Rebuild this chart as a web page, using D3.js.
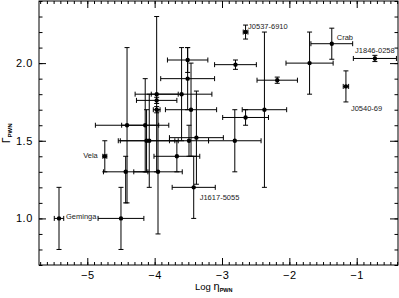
<!DOCTYPE html>
<html>
<head>
<meta charset="utf-8">
<script src="https://cdnjs.cloudflare.com/ajax/libs/d3/7.8.5/d3.min.js"></script>
<style>
  body { margin: 0; background: #fff; }
  svg { display: block; font-family: "Liberation Sans", Arial, sans-serif; }
  .axis path { display: none; }
  .axis line { stroke: #000; }
  .axis text { font-size: 11px; fill: #000; }
  .lbl { font-size: 7.5px; fill: #222; }
</style>
</head>
<body>
<div id="chart"></div>
<script>
var width = 399,
    height = 298;

// pulsar wind nebulae: log efficiency vs photon index
var names     = ["Geminga", "", "Vela", "", "", "", "", "", "", "", "", "", "", "", "", "", "", "", "",
                 "J1617-5055", "J0537-6910", "Crab", "J1846-0258", "J0540-69", "", "", "", "", "", ""];
var logEta    = [-5.42, -4.50, -4.74, -4.43, -3.95, -4.41, -4.14, -4.12, -4.08, -3.97, -3.97, -3.97, -3.51, -3.51, -3.60,
                 -3.46, -3.38, -3.49, -3.67, -3.42, -2.65, -1.37, -0.73, -1.16, -1.70, -2.18, -2.80, -2.37, -2.65, -2.81];
var logEtaErr = [0.07, 0.34, 0.03, 0.33, 0.36, 0.47, 0.35, 0.42, 0.43, 0.32, 0.30, 0.05, 0.30, 0.40, 0.45,
                 0.38, 0.40, 0.29, 0.34, 0.32, 0.035, 0.31, 0.32, 0.04, 0.35, 0.30, 0.31, 0.33, 0.34, 0.39];
var gamma     = [1.00, 1.00, 1.40, 1.30, 1.30, 1.60, 1.60, 1.50, 1.50, 1.80, 1.76, 1.70, 2.02, 1.90, 1.80,
                 1.70, 1.52, 1.50, 1.40, 1.20, 2.20, 2.125, 2.03, 1.85, 2.00, 1.89, 1.99, 1.70, 1.65, 1.50];
var gammaLo   = [0.20, 0.20, 0.10, 0.20, 0.40, 0.50, 0.30, 0.20, 0.30, 0.50, 0.02, 0.02, 0.08, 0.20, 0.30,
                 0.30, 0.30, 0.10, 0.10, 0.20, 0.045, 0.10, 0.02, 0.10, 0.20, 0.02, 0.03, 0.50, 0.05, 0.20];
var gammaHi   = [0.20, 0.20, 0.10, 0.10, 0.40, 0.50, 0.30, 0.20, 0.30, 0.50, 0.02, 0.02, 0.08, 0.20, 0.30,
                 0.30, 0.30, 0.10, 0.10, 0.20, 0.045, 0.10, 0.02, 0.10, 0.20, 0.02, 0.03, 0.50, 0.05, 0.20];

var xTicks = [-5, -4, -3, -2, -1];
var yTicks = [1.0, 1.5, 2.0];

var margin = {top: 1, right: 1, bottom: 33, left: 39};

var x = d3.scaleLinear()
    .domain([-5.717, -0.387])
    .range([margin.left, width - margin.right]);

var y = d3.scaleLinear()
    .domain([0.7, 2.4])
    .range([height - margin.bottom, margin.top]);

var svg = d3.select("#chart").append("svg")
    .attr("width", width)
    .attr("height", height);

var minusFmt = function(d) { return (d < 0 ? "\u2212" : "") + Math.abs(d); };

// minor ticks every 0.1
var xMinor = d3.range(-5.7, -0.38, 0.1).map(function(d) { return Math.round(d * 10) / 10; });
var yMinor = d3.range(0.7, 2.41, 0.1).map(function(d) { return Math.round(d * 10) / 10; });

var x0 = height - margin.bottom, x1 = margin.top;

// bottom
svg.append("g").attr("class", "axis").attr("transform", "translate(0," + x0 + ")")
    .call(d3.axisBottom(x).tickValues(xMinor).tickSize(-3).tickFormat(""));
svg.append("g").attr("class", "axis").attr("transform", "translate(0," + x0 + ")")
    .call(d3.axisBottom(x).tickValues(xTicks).tickSize(-7).tickPadding(6).tickFormat(minusFmt))
  .selectAll("text").attr("letter-spacing", "0.6px");
// top
svg.append("g").attr("class", "axis").attr("transform", "translate(0," + x1 + ")")
    .call(d3.axisTop(x).tickValues(xMinor).tickSize(-3).tickFormat(""));
svg.append("g").attr("class", "axis").attr("transform", "translate(0," + x1 + ")")
    .call(d3.axisTop(x).tickValues(xTicks).tickSize(-7).tickFormat(""));
// left
svg.append("g").attr("class", "axis").attr("transform", "translate(" + margin.left + ",0)")
    .call(d3.axisLeft(y).tickValues(yMinor).tickSize(-3.5).tickFormat(""));
svg.append("g").attr("class", "axis").attr("transform", "translate(" + margin.left + ",0)")
    .call(d3.axisLeft(y).tickValues(yTicks).tickSize(-7).tickPadding(6).tickFormat(d3.format(".1f")))
  .selectAll("text").attr("letter-spacing", "0.6px");
// right
svg.append("g").attr("class", "axis").attr("transform", "translate(" + (width - margin.right) + ",0)")
    .call(d3.axisRight(y).tickValues(yMinor).tickSize(-3.5).tickFormat(""));
svg.append("g").attr("class", "axis").attr("transform", "translate(" + (width - margin.right) + ",0)")
    .call(d3.axisRight(y).tickValues(yTicks).tickSize(-8).tickFormat(""));

// frame
svg.append("rect")
    .attr("x", margin.left).attr("y", margin.top)
    .attr("width", width - margin.left - margin.right)
    .attr("height", height - margin.top - margin.bottom)
    .attr("fill", "none").attr("stroke", "#000").attr("stroke-width", 1);

var data = logEta.map(function(d, i) {
  return {name: names[i], e: d, ee: logEtaErr[i], g: gamma[i], lo: gammaLo[i], hi: gammaHi[i]};
});

var cap = 2.5;
var bars = svg.append("g").attr("stroke", "#000").attr("stroke-width", 1);

data.forEach(function(d) {
  var cx = x(d.e), cy = y(d.g);
  var xl = x(d.e - d.ee), xr = x(d.e + d.ee);
  var yt = y(d.g + d.hi), yb = y(d.g - d.lo);
  bars.append("line").attr("x1", xl).attr("x2", xr).attr("y1", cy).attr("y2", cy);
  bars.append("line").attr("x1", xl).attr("x2", xl).attr("y1", cy - cap).attr("y2", cy + cap);
  bars.append("line").attr("x1", xr).attr("x2", xr).attr("y1", cy - cap).attr("y2", cy + cap);
  bars.append("line").attr("x1", cx).attr("x2", cx).attr("y1", yt).attr("y2", yb);
  bars.append("line").attr("x1", cx - cap).attr("x2", cx + cap).attr("y1", yt).attr("y2", yt);
  bars.append("line").attr("x1", cx - cap).attr("x2", cx + cap).attr("y1", yb).attr("y2", yb);
});

svg.append("g").selectAll("circle")
    .data(data).enter().append("circle")
    .attr("cx", function(d) { return x(d.e); })
    .attr("cy", function(d) { return y(d.g); })
    .attr("r", 2.2)
    .attr("fill", "#000");

// source labels: offsets from the point
var labelPos = {
  "Geminga":    {dx: 7,   dy: 1,    anchor: "start"},
  "Vela":       {dx: -7,  dy: 2,    anchor: "end"},
  "J1617-5055": {dx: 6,   dy: 13,   anchor: "start"},
  "J0537-6910": {dx: 2.5, dy: -3,   anchor: "start"},
  "Crab":       {dx: 5,   dy: -4,   anchor: "start"},
  "J1846-0258": {dx: 0,   dy: -5.6, anchor: "middle"},
  "J0540-69":   {dx: 5,   dy: 24.5, anchor: "start"}
};

svg.append("g").selectAll("text")
    .data(data.filter(function(d) { return d.name !== ""; }))
    .enter().append("text")
    .attr("class", "lbl")
    .attr("x", function(d) { return x(d.e) + labelPos[d.name].dx; })
    .attr("y", function(d) { return y(d.g) + labelPos[d.name].dy; })
    .attr("text-anchor", function(d) { return labelPos[d.name].anchor; })
    .text(function(d) { return d.name; });

// axis titles
var xt = svg.append("text")
    .attr("x", 195).attr("y", 290)
    .attr("font-size", "9.5px")
    .attr("fill", "#000");
xt.append("tspan").text("Log ");
xt.append("tspan").attr("font-size", "11px").text("\u03B7");
xt.append("tspan").attr("font-size", "5.5px").attr("font-weight", "bold").attr("dy", 1.5).text("PWN");

var yt = svg.append("text")
    .attr("transform", "translate(10,143) rotate(-90)")
    .attr("font-size", "10px")
    .attr("fill", "#000");
yt.append("tspan").text("\u0393");
yt.append("tspan").attr("font-size", "6px").attr("font-weight", "bold").attr("dy", 2).text("PWN");
</script>
</body>
</html>
